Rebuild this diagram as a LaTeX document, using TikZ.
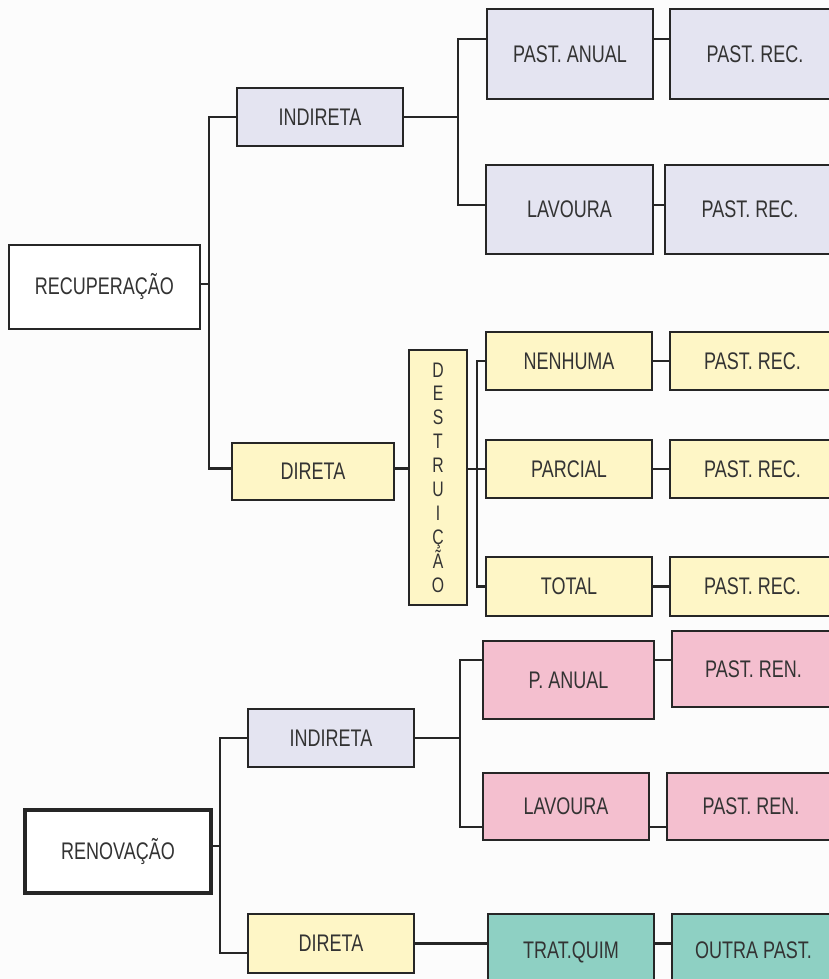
\documentclass[tikz,border=0pt]{standalone}
\usepackage{fontspec}
\setmainfont{Liberation Sans}[FakeStretch=0.75]
\definecolor{lav}{HTML}{E4E4F1}
\definecolor{yel}{HTML}{FEF6C6}
\definecolor{rosa}{HTML}{F4BFCF}
\definecolor{verde}{HTML}{8ED0C3}
\definecolor{texto}{HTML}{333333}
\tikzset{
  caixa/.style={draw=black!85, line width=2.8pt, inner sep=0pt, text=texto,
    font=\fontsize{24}{28}\selectfont, minimum width=166pt, minimum height=58pt},
  liga/.style={draw=black!85, line width=2.4pt},
}
\begin{document}
\begin{tikzpicture}[x=1pt,y=-1pt] %[scale=0.8]
  \clip (0,0) rectangle (829,979);
  \fill [white!99!black] (0,0) rectangle (829,979);
  % recuperacao
  \node [caixa, fill=white, minimum width=191pt, minimum height=84pt] (rec) at (104.5,287) {RECUPERAÇÃO};
  \node [caixa, fill=lav] (ind1) at (320,117) {INDIRETA};
  \node [caixa, fill=yel, minimum width=162pt, minimum height=57pt] (dir1) at (313,471.5) {DIRETA};
  \node [caixa, fill=lav, minimum height=90pt] (pa) at (570,54) {PAST. ANUAL};
  \node [caixa, fill=lav, minimum width=170pt, minimum height=90pt] (pr1) at (755,54) {PAST. REC.};
  \node [caixa, fill=lav, minimum width=167pt, minimum height=89pt] (lav1) at (569.5,209.5) {LAVOURA};
  \node [caixa, fill=lav, minimum width=170pt, minimum height=89pt] (pr2) at (750,209.5) {PAST. REC.};
  \node [caixa, fill=yel, minimum width=58pt, minimum height=255pt, align=center,
    font=\fontsize{21}{23.9}\selectfont] (des) at (438,477.5) {D\\E\\S\\T\\R\\U\\I\\Ç\\Ã\\O};
  \node [caixa, fill=yel] (nen) at (569,361) {NENHUMA};
  \node [caixa, fill=yel, minimum width=165pt] (pr3) at (752.5,361) {PAST. REC.};
  \node [caixa, fill=yel] (par) at (569,469) {PARCIAL};
  \node [caixa, fill=yel, minimum width=165pt] (pr4) at (752.5,469) {PAST. REC.};
  \node [caixa, fill=yel, minimum height=59pt] (tot) at (569,586.5) {TOTAL};
  \node [caixa, fill=yel, minimum width=165pt, minimum height=59pt] (pr5) at (752.5,586.5) {PAST. REC.};
  % renovacao
  \node [caixa, fill=white, line width=3.8pt, minimum width=186pt, minimum height=83pt] (ren) at (118,851.5) {RENOVAÇÃO};
  \node [caixa, fill=lav] (ind2) at (331,738) {INDIRETA};
  \node [caixa, fill=yel, minimum height=59pt] (dir2) at (331,943.5) {DIRETA};
  \node [caixa, fill=rosa, minimum width=171pt, minimum height=78pt] (pan) at (568.5,680) {P. ANUAL};
  \node [caixa, fill=rosa, minimum width=163pt, minimum height=76pt] (prn1) at (753.5,669) {PAST. REN.};
  \node [caixa, fill=rosa, minimum height=67pt] (lav2) at (566,806.5) {LAVOURA};
  \node [caixa, fill=rosa, minimum width=168pt, minimum height=67pt] (prn2) at (751,806.5) {PAST. REN.};
  \node [caixa, fill=verde, minimum height=86pt, text depth=0pt] (tq) at (571,957) {\raisebox{14pt}{TRAT.QUIM}};
  \node [caixa, fill=verde, minimum width=163pt, minimum height=86pt] (op) at (753.5,957) {\raisebox{14pt}{OUTRA PAST.}};
  \coordinate (t1) at (209,284);
  \coordinate (t2) at (458,117);
  \coordinate (t3) at (477,469);
  \coordinate (t4) at (220,846);
  \coordinate (t5) at (460,738);
  \draw [liga] (rec.east |- t1) -- (t1);
  \draw [liga] (t1) |- (ind1.west);
  \draw [liga] (t1) |- ([yshift=3pt]dir1.west);
  \draw [liga] (ind1.east) -- (t2);
  \draw [liga] (t2) |- ([yshift=15pt]pa.west);
  \draw [liga] (t2) |- ([yshift=4.5pt]lav1.west);
  \draw [liga] ([yshift=15pt]pa.east) -- ([yshift=15pt]pa.east -| pr1.west);
  \draw [liga] ([yshift=4.5pt]lav1.east) -- ([yshift=4.5pt]lav1.east -| pr2.west);
  \draw [liga] ([yshift=3pt]dir1.east) -- ([yshift=3pt]dir1.east -| des.west);
  \draw [liga] (des.east |- t3) -- (t3);
  \draw [liga] (t3) |- (nen.west);
  \draw [liga] (t3) |- (par.west);
  \draw [liga] (t3) |- (tot.west);
  \draw [liga] (nen) -- (pr3);
  \draw [liga] (par) -- (pr4);
  \draw [liga] (tot) -- (pr5);
  \draw [liga] (ren.east |- t4) -- (t4);
  \draw [liga] (t4) |- (ind2.west);
  \draw [liga] (t4) |- ([yshift=-9.5pt]dir2.west);
  \draw [liga] (ind2.east) -- (t5);
  \draw [liga] (t5) |- ([yshift=20pt]pan.west);
  \draw [liga] (t5) |- ([yshift=-20.5pt]lav2.west);
  \draw [liga] ([yshift=20pt]pan.east) -- ([yshift=20pt]pan.east -| prn1.west);
  \draw [liga] ([yshift=-20.5pt]lav2.east) -- ([yshift=-20.5pt]lav2.east -| prn2.west);
  \draw [liga] (dir2.east) -- (dir2.east -| tq.west);
  \draw [liga] (dir2.east -| tq.east) -- (dir2.east -| op.west);
\end{tikzpicture}
\end{document}
